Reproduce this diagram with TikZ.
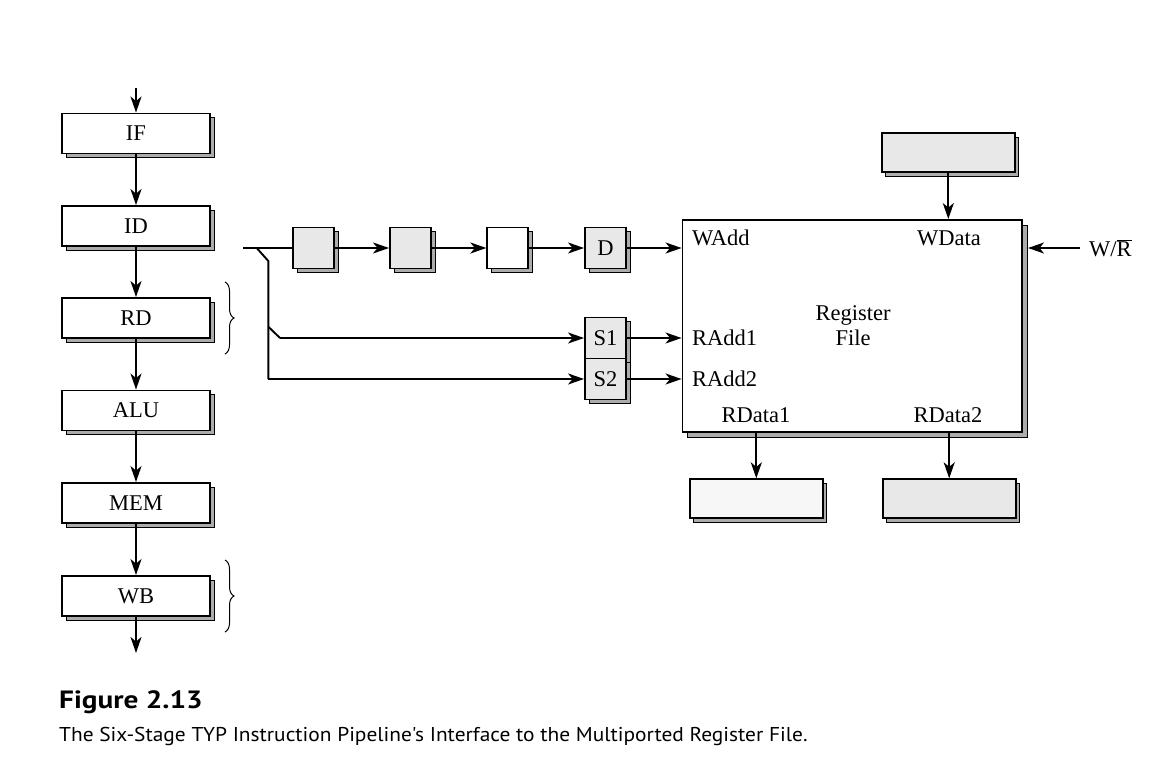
\documentclass[tikz,border=0pt]{standalone}
\usepackage{fontspec}
\setmainfont{Liberation Serif}
\newfontfamily\capfont{PT Sans}
\usetikzlibrary{arrows.meta,shadows,decorations.pathreplacing}
\begin{document}
\begin{tikzpicture}[x=1pt,y=-1pt,
  every node/.style={font=\fontsize{22.5}{25}\selectfont},
  sh/.style={general shadow={shadow xshift=4pt, shadow yshift=-4pt, fill=gray!65, draw=black, line width=0.8pt}},
  stage/.style={draw, line width=1.9pt, fill=white, inner sep=0pt, minimum width=148pt, minimum height=40pt, sh},
  reg/.style={draw, line width=1.9pt, fill=gray!18, inner sep=0pt, minimum width=41pt, minimum height=41pt, sh},
  wide/.style={draw, line width=1.9pt, fill=gray!18, inner sep=0pt, minimum width=133pt, minimum height=39pt, sh},
  lbl/.style={inner sep=0pt},
  ln/.style={line width=1.9pt},
  arr/.style={line width=1.9pt, -{Stealth[length=16pt,width=11pt,inset=4.5pt]}},
  br/.style={line width=1pt, decorate, decoration={brace, amplitude=9pt}}
]
\useasboundingbox (0,0) rectangle (1172,768);

% pipeline stages
\coordinate (in) at (136,88);
\node[stage] (IF)  at (136,133.5) {IF};
\node[stage] (ID)  at (136,226)   {ID};
\node[stage] (RD)  at (136,318)   {RD};
\node[stage] (ALU) at (136,410.5) {ALU};
\node[stage] (MEM) at (136,503)   {MEM};
\node[stage] (WB)  at (136,596)   {WB};
\coordinate (out) at (136,653);

\draw[arr] (in) -- (IF.north);
\draw[arr] (IF.south) -- (ID.north);
\draw[arr] (ID.south) -- (RD.north);
\draw[arr] (RD.south) -- (ALU.north);
\draw[arr] (ALU.south) -- (MEM.north);
\draw[arr] (MEM.south) -- (WB.north);
\draw[arr] (WB.south) -- (out);

% braces
\coordinate (b1t) at (225,282);
\coordinate (b1b) at (225,354);
\coordinate (b2t) at (225,560);
\coordinate (b2b) at (225,632);
\draw[br] (b1t) -- (b1b);
\draw[br] (b2t) -- (b2b);

% destination register delay chain
\node[reg] (r1) at (313.5,248) {};
\node[reg] (r2) at (410.5,248) {};
\node[reg, fill=white] (r3) at (507.8,248) {};
\node[reg] (rD) at (605.5,248) {D};

% source registers
\node[reg] (S1) at (605.5,338) {S1};
\node[reg] (S2) at (605.5,379) {S2};

% register file
\node[draw, line width=1.9pt, fill=white, minimum width=339.5pt, minimum height=212pt, inner sep=0pt,
      general shadow={shadow xshift=5pt, shadow yshift=-5pt, fill=gray!65, draw=black, line width=0.8pt}]
      (RF) at (852.25,326) {};
\node[lbl, anchor=west] (WAdd) at (692,238) {WAdd};
\node[lbl] (WData) at (949,238) {WData};
\node[lbl, align=center] (RFname) at (853,326) {Register\\File};
\node[lbl, anchor=west] (RA1) at (692,338) {RAdd1};
\node[lbl, anchor=west] (RA2) at (692,379) {RAdd2};
\node[lbl] (RD1) at (756,415) {RData1};
\node[lbl] (RD2) at (948,415) {RData2};

% data boxes
\node[wide] (WDbox) at (948.3,152.8) {};
\node[wide, fill=gray!6] (RD1box) at (756.3,498.8) {};
\node[wide] (RD2box) at (949.2,498.8) {};

% W/R control
\node[lbl, anchor=west] (WR) at (1089,248) {W/\ensuremath{\overline{\hbox{R}}}};
\coordinate (WRsrc) at (1080,248);
\coordinate (WRin) at (1028,248);

% connectors: chain
\coordinate (split) at (243,248);
\coordinate (k1) at (256.7,248);
\coordinate (k2) at (268.3,261);
\coordinate (k3) at (268.3,326.7);
\coordinate (k4) at (280,338);
\coordinate (k5) at (268.3,379);
\draw[ln] (split) -- (r1.west);
\draw[arr] (r1.east) -- (r2.west);
\draw[arr] (r2.east) -- (r3.west);
\draw[arr] (r3.east) -- (rD.west);
\draw[arr] (rD.east) -- (rD.east -| RF.west);

% branches to source registers
\draw[ln, line join=miter] (k1) -- (k2) -- (k5);
\draw[arr] (k5) -- (S2.west);
\draw[ln] (k3) -- (k4);
\draw[arr] (k4) -- (S1.west);
\draw[arr] (S1.east) -- (S1.east -| RF.west);
\draw[arr] (S2.east) -- (S2.east -| RF.west);

% data paths
\draw[arr] (WDbox.south) -- (WDbox.south |- RF.north);
\draw[arr] (RD1box.north |- RF.south) -- (RD1box.north);
\draw[arr] (RD2box.north |- RF.south) -- (RD2box.north);
\draw[arr] (WRsrc) -- (WRin);

% caption
\node[anchor=base west, inner sep=0pt, font=\capfont\bfseries\fontsize{25}{28}\selectfont] (fig) at (59,708) {\scalebox{1.17}[1]{Figure 2.13}};
\node[anchor=base west, inner sep=0pt, font=\capfont\fontsize{20}{23}\selectfont] (cap) at (59,741)
  {\scalebox{1.07}[1]{The Six-Stage TYP Instruction Pipeline's Interface to the Multiported Register File.}};
\end{tikzpicture}
\end{document}
